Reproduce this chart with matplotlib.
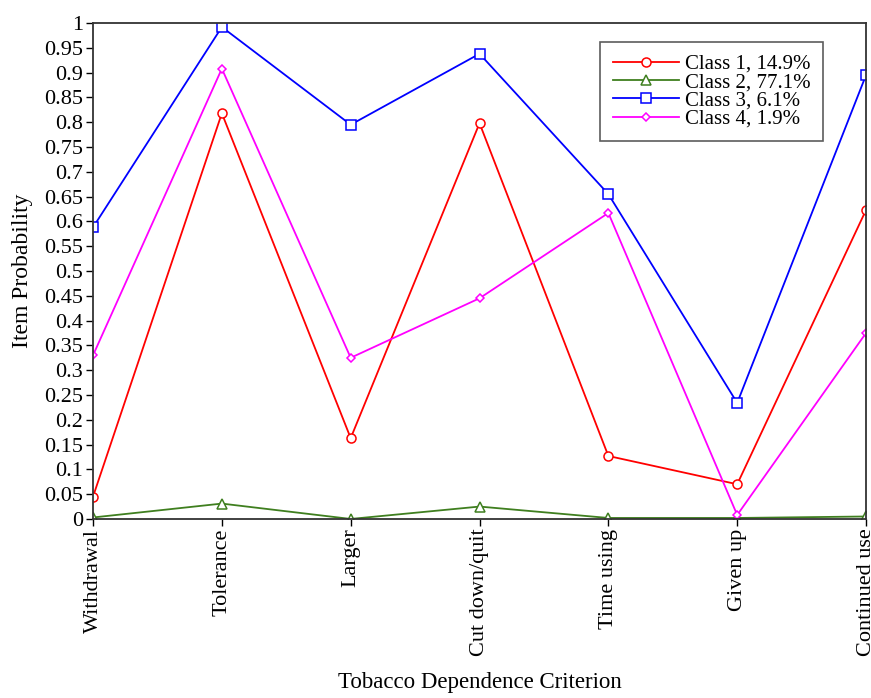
import matplotlib.pyplot as plt

plt.rcParams.update({
    "font.family": ["Liberation Serif", "DejaVu Serif"],
    "font.size": 16,
})

criteria = ["Withdrawal", "Tolerance", "Larger", "Cut down/quit",
            "Time using", "Given up", "Continued use"]
class1 = [0.045, 0.818, 0.163, 0.798, 0.127, 0.070, 0.623]
class2 = [0.003, 0.031, 0.000, 0.025, 0.002, 0.002, 0.005]
class3 = [0.588, 0.992, 0.795, 0.938, 0.655, 0.234, 0.895]
class4 = [0.330, 0.908, 0.325, 0.445, 0.617, 0.008, 0.375]
labels = ["Class 1, 14.9%", "Class 2, 77.1%", "Class 3, 6.1%", "Class 4, 1.9%"]

fig = plt.figure(figsize=(8.71, 6.98), dpi=100)
ax = fig.add_axes([0.1068, 0.2565, 0.8875, 0.7105])

x = range(len(criteria))
ax.plot(x, class1, color="#ff0000", marker="o", ms=6.5, mfc="white", mew=1.1, lw=1.3, label=labels[0])
ax.plot(x, class2, color="#3f7f1f", marker="^", ms=6.5, mfc="white", mew=1.1, lw=1.3, label=labels[1])
ax.plot(x, class3, color="#0000ff", marker="s", ms=6.5, mfc="white", mew=1.1, lw=1.3, label=labels[2])
ax.plot(x, class4, color="#ff00ff", marker="D", ms=4.5, mfc="white", mew=1.1, lw=1.3, label=labels[3])

ax.set_xlim(0, len(criteria) - 1)
ax.set_ylim(0, 1)
yt = [i * 0.05 for i in range(21)]
ax.set_yticks(yt)
ax.set_yticklabels([f"{v:.2f}".rstrip("0").rstrip(".") for v in yt], fontsize=16)
ax.set_xticks(list(x))
ax.set_xticklabels(criteria, rotation=90, fontsize=16)
ax.tick_params(direction="out", length=5, width=1, pad=2)
ax.set_ylabel("Item Probability", fontsize=17, labelpad=8)
ax.set_xlabel("Tobacco Dependence Criterion", fontsize=16.5, labelpad=11)

for s in ax.spines.values():
    s.set_color("#333333")
    s.set_linewidth(1.3)

leg = ax.legend(loc="upper right", bbox_to_anchor=(0.944, 0.962), fontsize=15,
                frameon=True, fancybox=False, edgecolor="#333333",
                handlelength=3.2, labelspacing=-0.06, borderpad=0.6,
                handletextpad=0.25, borderaxespad=0)
leg.get_frame().set_linewidth(1.2)

fig.savefig("out.png", dpi=100)
